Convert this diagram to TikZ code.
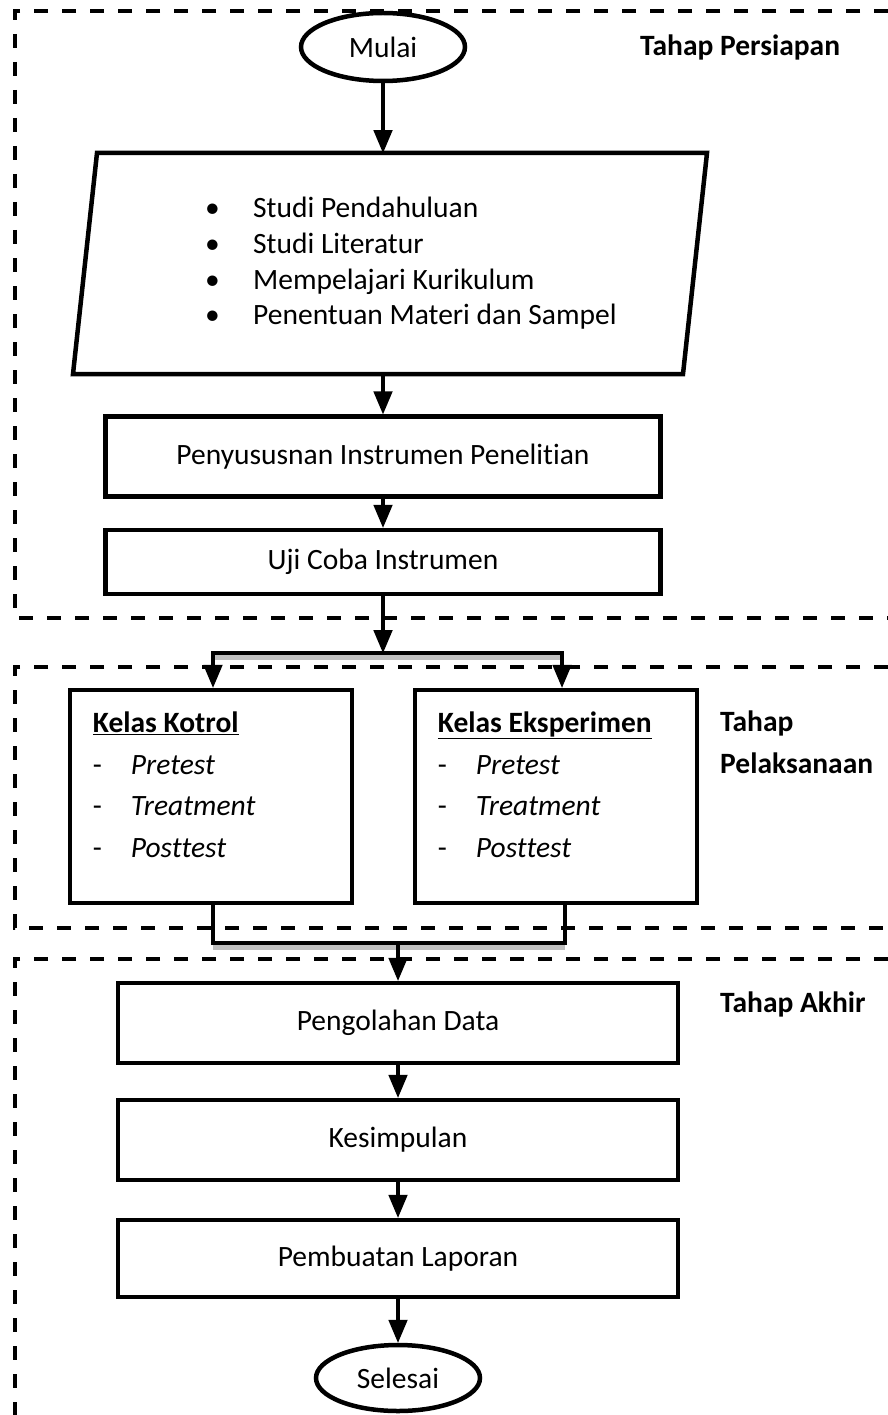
\documentclass[tikz,border=0pt]{standalone}
\usepackage{fontspec}
\setmainfont{Carlito}[Ligatures=NoCommon]
\usetikzlibrary{shapes,arrows}

\tikzset{
  teks/.style={font=\fontsize{29.5}{36}\selectfont},
  terminal/.style={teks,ellipse,draw,line width=4.5pt,minimum width=164pt,minimum height=68pt,inner sep=0pt},
  proses/.style={teks,rectangle,draw,line width=4.5pt,minimum width=555pt,minimum height=80pt,inner sep=0pt},
  kelas/.style={rectangle,draw,line width=4.5pt,minimum width=282pt,minimum height=213pt,inner sep=0pt},
  isi/.style={align=left,inner sep=0pt,font=\fontsize{29.5}{41.5}\selectfont},
  tahap/.style={align=left,inner sep=0pt,font=\fontsize{29.5}{42}\selectfont\bfseries},
  alur/.style={->,>=triangle 45,line width=4.5pt},
  bayang/.style={line width=4.5pt,color=gray!50},
  batas/.style={line width=4pt,dash pattern=on 14pt off 14pt},
}

\begin{document}
\begin{tikzpicture}[x=1pt,y=-1pt]
\useasboundingbox (0,0) rectangle (888,1415);
% batas tiap tahap
\draw[batas] (888,11) -- (15,11) -- (15,618) -- (888,618);
\draw[batas] (888,667) -- (15,667) -- (15,928) -- (888,928);
\draw[batas] (888,959) -- (15,959) -- (15,1415);

% tahap persiapan
\node[terminal] (mulai) at (383,47) {Mulai};
\draw[line width=4.5pt] (97,153) -- (707,153) -- (683,374) -- (73,374) -- cycle;
\coordinate (studiatas) at (383,153);
\coordinate (studibawah) at (383,374);
\node[isi,font=\fontsize{29.5}{35.7}\selectfont,anchor=west] (studi) at (205,263.5)
  {\makebox[48pt][l]{\textbullet}Studi Pendahuluan\\
   \makebox[48pt][l]{\textbullet}Studi Literatur\\
   \makebox[48pt][l]{\textbullet}Mempelajari Kurikulum\\
   \makebox[48pt][l]{\textbullet}Penentuan Materi dan Sampel};
\node[proses] (susun) at (383,456.5) {Penyususnan Instrumen Penelitian};
\node[proses,minimum height=64pt] (uji) at (383,562) {Uji Coba Instrumen};
\draw[alur] (mulai) -- (studiatas);
\draw[alur] (studibawah) -- (susun);
\draw[alur] (susun) -- (uji);

% tahap pelaksanaan
\node[kelas] (kk) at (211,796.5) {};
\node[kelas] (ke) at (556,796.5) {};
\node[isi,anchor=north west] (kkisi) at ([xshift=25pt,yshift=-24pt]kk.north west)
  {\underline{\textbf{Kelas Kotrol}}\\
   \makebox[38pt][l]{-}\textit{Pretest}\\
   \makebox[38pt][l]{-}\textit{Treatment}\\
   \makebox[38pt][l]{-}\textit{Posttest}};
\node[isi,anchor=north west] (keisi) at ([xshift=25pt,yshift=-24pt]ke.north west)
  {\underline{\textbf{Kelas Eksperimen}}\\
   \makebox[38pt][l]{-}\textit{Pretest}\\
   \makebox[38pt][l]{-}\textit{Treatment}\\
   \makebox[38pt][l]{-}\textit{Posttest}};
\coordinate (cabang) at (383,653);
\coordinate (kiri) at (213,653);
\coordinate (kanan) at (562,653);
\draw[alur] (uji) -- (cabang);
\draw[bayang] ([yshift=-4.5pt]kiri) -- ([yshift=-4.5pt]kanan);
\draw[alur,<->] (kiri |- kk.north) -- (kiri) -- (kanan) -- (kanan |- ke.north);
\coordinate (gabkiri) at (213,943);
\coordinate (gabkanan) at (565,943);
\coordinate (gabung) at (398,943);
\draw[bayang] ([yshift=-4.5pt]gabkiri) -- ([yshift=-4.5pt]gabkanan);
\draw[line width=4.5pt] (kk.south -| gabkiri) -- (gabkiri) -- (gabkanan) -- (ke.south -| gabkanan);

% tahap akhir
\node[proses,minimum width=560pt] (olah) at (398,1023) {Pengolahan Data};
\node[proses,minimum width=560pt] (simpul) at (398,1140) {Kesimpulan};
\node[proses,minimum width=560pt,minimum height=77pt] (lapor) at (398,1258.5) {Pembuatan Laporan};
\node[terminal,minimum height=66pt] (selesai) at (398,1378) {Selesai};
\draw[alur] (gabung) -- (olah);
\draw[alur] (olah) -- (simpul);
\draw[alur] (simpul) -- (lapor);
\draw[alur] (lapor) -- (selesai);

% keterangan tahap
\node[tahap,anchor=west] (persiapan) at (640,47) {Tahap Persiapan};
\node[tahap,anchor=west] (pelaksanaan) at (720,742) {Tahap\\Pelaksanaan};
\node[tahap,anchor=west] (akhir) at (720,1004) {Tahap Akhir};
\end{tikzpicture}
\end{document}
